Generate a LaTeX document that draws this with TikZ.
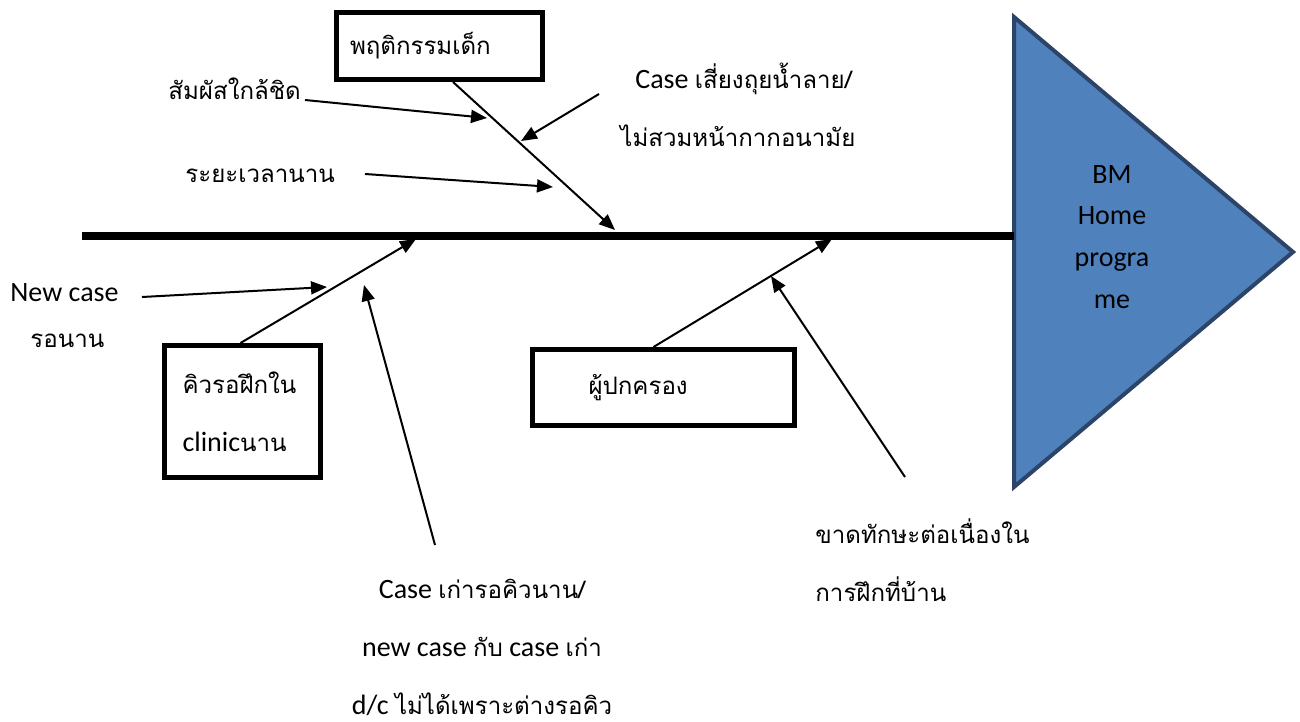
\documentclass[tikz,border=0pt]{standalone}
\usepackage{fontspec}
\setmainfont{Carlito}
\newfontfamily\thf[Script=Thai,Scale=0.86]{Loma}
\usetikzlibrary{arrows.meta}
\definecolor{trifill}{HTML}{4F81BD}
\definecolor{triedge}{HTML}{2B4468}
\begin{document}
\begin{tikzpicture}[x=0.5pt,y=-0.5pt,
  arr/.style={line width=1pt,-{Triangle[length=8pt,width=6.5pt]}},
  boxed/.style={draw,line width=2.5pt,inner ysep=0pt},
  lbl/.style={inner sep=0pt,font=\fontsize{14}{29}\selectfont},
  thlbl/.style={inner sep=0pt,font=\fontsize{14}{29}\selectfont\thf},
]
\useasboundingbox (0,0) rectangle (1300,722);

% goal triangle
\coordinate (t1) at (1014,17);
\coordinate (t2) at (1293,252);
\coordinate (t3) at (1014,487);
\draw[fill=trifill,draw=triedge,line width=2pt,line join=miter] (t1) -- (t2) -- (t3) -- cycle;
\node[lbl,anchor=base,align=center,font=\fontsize{14}{20.8}\selectfont] (goal) at (1112,308) {BM\\Home\\progra\\me};

% spine
\coordinate (s0) at (82,236);
\coordinate (s1) at (1014,236);
\draw[line width=4pt] (s0) -- (s1);

% junctions on spine
\coordinate (j1) at (615,230);
\coordinate (j2) at (416,239);
\coordinate (j3) at (832,239);

% boxes
\node[boxed,thlbl,inner xsep=7pt,text width=89pt,align=left,minimum height=33.5pt] (kid) at (439,46) {พฤติกรรมเด็ก};
\node[boxed,lbl,inner xsep=9pt,text width=60pt,align=left,minimum height=66pt] (queue) at (242.5,411.5) {{\thf คิวรอฝึกใน}\\clinic{\thf นาน}};
\node[boxed,thlbl,inner xsep=28pt,text width=75pt,align=left,minimum height=38pt] (parent) at (663.5,387.5) {ผู้ปกครอง};

% bones
\draw[arr] ([xshift=7pt]kid.south) -- (j1);
\draw[arr] ([xshift=-1pt]queue.north) -- (j2);
\draw[arr] ([xshift=-5pt]parent.north) -- (j3);

% labels
\node[thlbl,anchor=base west] (l1) at (168,99) {สัมผัสใกล้ชิด};
\node[thlbl,anchor=base west] (l2) at (185,182) {ระยะเวลานาน};
\node[lbl,anchor=base west] (l3) at (635,89) {Case {\thf เสี่ยงถุยน้ำลาย/}};
\node[thlbl,anchor=base west] (l3b) at (620,147) {ไม่สวมหน้ากากอนามัย};
\node[lbl,anchor=base west] (l4) at (10,301) {New case};
\node[thlbl,anchor=base west] (l4b) at (30,347) {รอนาน};
\node[lbl,anchor=base,align=center] (l5) at (482,714) {Case {\thf เก่ารอคิวนาน/}\\new case {\thf กับ} case {\thf เก่า}\\d/c {\thf ไม่ได้เพราะต่างรอคิว}};
\node[thlbl,anchor=base west,align=left] (l6) at (815,601) {{\thf ขาดทักษะต่อเนื่องใน}\\{\thf การฝึกที่บ้าน}};

% arrow start points
\coordinate (a1) at (305,100);
\coordinate (e1) at (487,118);
\coordinate (a2) at (365,174);
\coordinate (e2) at (553,187);
\coordinate (a3) at (599,94);
\coordinate (e3) at (521,141);
\coordinate (a4) at (142,297);
\coordinate (e4) at (327,287);
\coordinate (a5) at (435,545);
\coordinate (e5) at (364,285);
\coordinate (a6) at (905,477);
\coordinate (e6) at (771,276);

\draw[arr] (a1) -- (e1);
\draw[arr] (a2) -- (e2);
\draw[arr] (a3) -- (e3);
\draw[arr] (a4) -- (e4);
\draw[arr] (a5) -- (e5);
\draw[arr] (a6) -- (e6);
\end{tikzpicture}
\end{document}
